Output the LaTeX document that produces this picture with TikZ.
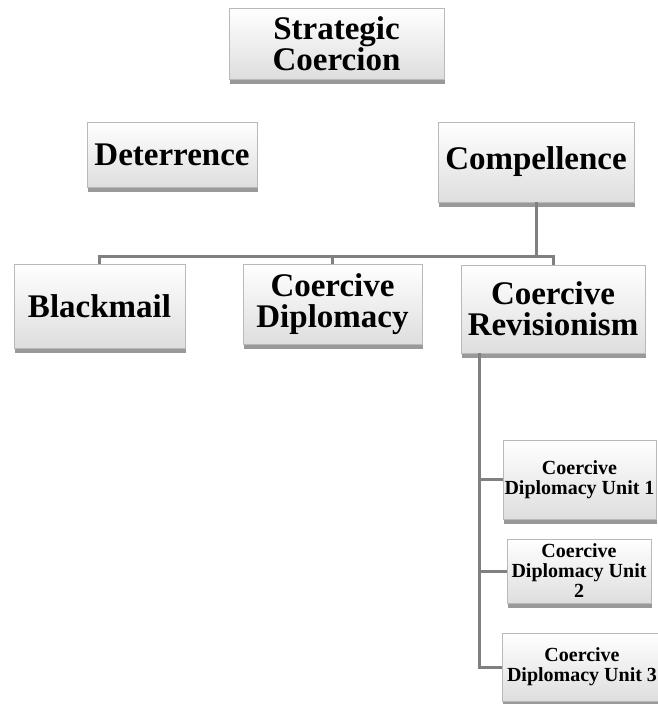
\documentclass[tikz,border=0pt]{standalone}
\usepackage{fontspec}
\setmainfont{Liberation Serif}
\usepackage{tikz}
\usetikzlibrary{shadows,positioning}
\definecolor{linkgray}{RGB}{128,128,128}
\definecolor{boxline}{RGB}{185,185,185}

\tikzset{
  box/.style={draw=boxline, line width=0.8pt, top color=white, bottom color=black!13,
    align=center, inner sep=0pt, font=\bfseries,
    drop shadow={shadow xshift=1pt, shadow yshift=-4.5pt, fill=black, opacity=0.4}},
  bigbox/.style={box, font=\fontsize{33}{31}\selectfont\bfseries},
  smallbox/.style={box, font=\fontsize{20}{20}\selectfont\bfseries},
  link/.style={draw=linkgray, line width=3pt}
}

\begin{document}
\begin{tikzpicture}[x=1pt,y=-1pt]
  \useasboundingbox (0,0) rectangle (658,704);
  \node[bigbox, minimum width=215, minimum height=71] (strat) at (336.5,43.5) {Strategic\\Coercion};
  \node[bigbox, minimum width=170, minimum height=65] (deter) at (172,154.5) {Deterrence};
  \node[bigbox, minimum width=196, minimum height=80] (compel) at (536,162) {Compellence};
  \node[bigbox, minimum width=171, minimum height=84] (black) at (99.5,306) {Blackmail};
  \node[bigbox, minimum width=179, minimum height=80] (cdip) at (332.5,304) {Coercive\\Diplomacy};
  \node[bigbox, minimum width=184, minimum height=88] (crev) at (553,309) {Coercive\\Revisionism};
  \node[smallbox, minimum width=153, minimum height=79] (unitA) at (579.5,479.5) {Coercive\\Diplomacy Unit 1};
  \node[smallbox, minimum width=144, minimum height=64] (unitB) at (579,571) {Coercive\\Diplomacy Unit\\2};
  \node[smallbox, minimum width=160, minimum height=68] (unitC) at (582,667) {Coercive\\Diplomacy Unit 3};

  % bus and branches
  \coordinate (bus) at (0,256);
  \coordinate (spine) at ([xshift=19pt]crev.south west);
  \draw[link] (compel.south) -- (compel.south |- bus);
  \draw[link] (black.north) |- (crev.north |- bus) -- (crev.north);
  \draw[link] (cdip.north) -- (cdip.north |- bus);
  \draw[link] (spine) |- (unitC.west);
  \draw[link] (spine |- unitA.west) -- (unitA.west);
  \draw[link] (spine |- unitB.west) -- (unitB.west);
\end{tikzpicture}
\end{document}
